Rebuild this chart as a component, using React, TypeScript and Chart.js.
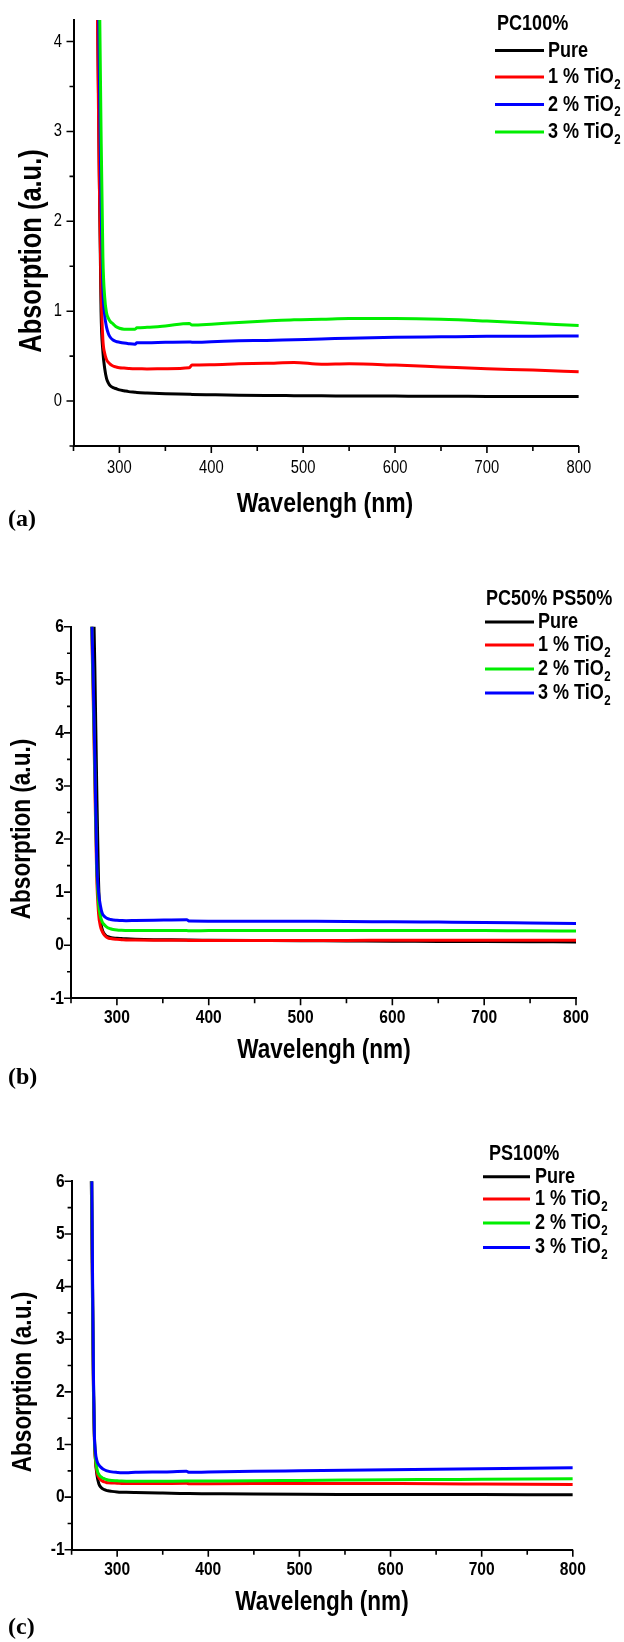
import React, { useEffect, useRef } from 'react';
import { Chart, registerables } from 'chart.js';

Chart.register(...registerables);

const SANS = "'Liberation Sans', Arial, sans-serif";
const SERIF = "'Liberation Serif', 'Times New Roman', serif";
// horizontal squeeze that gives the narrow grotesque look of the labels
const NARROW = 0.82;

// ---------- (a) PC100% ----------
const WL_A = [270, 274, 276, 278, 280, 282, 284, 286, 288, 290, 293, 296, 300, 305, 310, 317, 319, 330, 350, 376, 379, 400, 430, 460, 490, 520, 550, 600, 650, 700, 750, 800];
const PC_PURE = [8, 6, 4.6, 2.6, 1.0, 0.55, 0.36, 0.25, 0.2, 0.17, 0.15, 0.14, 0.125, 0.115, 0.105, 0.098, 0.096, 0.09, 0.082, 0.075, 0.074, 0.07, 0.065, 0.062, 0.06, 0.058, 0.057, 0.055, 0.053, 0.052, 0.051, 0.05];
const PC_TIO2_1 = [8, 6, 4.35, 2.5, 1.25, 0.68, 0.53, 0.46, 0.43, 0.41, 0.39, 0.38, 0.37, 0.367, 0.363, 0.36, 0.36, 0.358, 0.36, 0.37, 0.4, 0.405, 0.415, 0.42, 0.43, 0.41, 0.415, 0.4, 0.38, 0.36, 0.345, 0.325];
const PC_TIO2_2 = [9, 7, 5.5, 3.8, 2.2, 1.25, 0.95, 0.82, 0.75, 0.71, 0.68, 0.665, 0.655, 0.645, 0.638, 0.632, 0.648, 0.65, 0.655, 0.658, 0.655, 0.66, 0.67, 0.675, 0.683, 0.69, 0.7, 0.71, 0.715, 0.72, 0.722, 0.723];
const PC_TIO2_3 = [10, 8, 6.5, 4.8, 3.0, 1.6, 1.15, 0.98, 0.92, 0.885, 0.86, 0.83, 0.81, 0.8, 0.8, 0.8, 0.815, 0.82, 0.835, 0.864, 0.845, 0.855, 0.875, 0.89, 0.905, 0.91, 0.918, 0.918, 0.91, 0.89, 0.865, 0.84];

// ---------- (b) PC50% PS50% ----------
const WL_B = [268, 270, 272, 274, 276, 278, 280, 282, 284, 286, 288, 290, 293, 296, 300, 305, 310, 320, 340, 376, 379, 400, 450, 500, 550, 600, 650, 700, 750, 800];
const MIX_PURE = [12, 10, 8.5, 7, 5.2, 3.0, 1.2, 0.5, 0.3, 0.22, 0.18, 0.16, 0.145, 0.137, 0.13, 0.125, 0.12, 0.113, 0.105, 0.098, 0.097, 0.095, 0.09, 0.085, 0.08, 0.075, 0.072, 0.068, 0.065, 0.062];
const MIX_TIO2_1 = [9, 8, 6.4, 4.8, 3.0, 1.3, 0.6, 0.36, 0.26, 0.2, 0.16, 0.14, 0.125, 0.115, 0.11, 0.105, 0.1, 0.097, 0.094, 0.092, 0.09, 0.09, 0.09, 0.09, 0.091, 0.092, 0.092, 0.092, 0.093, 0.093];
const MIX_TIO2_2 = [9, 8, 6.5, 5.0, 3.3, 1.5, 0.8, 0.55, 0.44, 0.39, 0.355, 0.33, 0.31, 0.295, 0.285, 0.28, 0.278, 0.276, 0.275, 0.275, 0.274, 0.275, 0.276, 0.277, 0.278, 0.278, 0.277, 0.275, 0.272, 0.268];
const MIX_TIO2_3 = [9, 8, 6.6, 5.2, 3.5, 1.6, 1.0, 0.75, 0.6, 0.55, 0.52, 0.5, 0.485, 0.475, 0.47, 0.465, 0.462, 0.465, 0.47, 0.478, 0.455, 0.453, 0.452, 0.45, 0.448, 0.44, 0.435, 0.43, 0.42, 0.41];

// ---------- (c) PS100% ----------
const WL_C = [268, 270, 272, 273, 274, 275, 276, 278, 280, 282, 284, 286, 288, 290, 294, 300, 305, 310, 320, 350, 376, 379, 400, 450, 500, 550, 600, 650, 700, 750, 800];
const PS_PURE = [10, 8, 5.5, 3.6, 2.0, 1.2, 0.75, 0.4, 0.25, 0.19, 0.16, 0.145, 0.13, 0.12, 0.11, 0.1, 0.095, 0.092, 0.088, 0.078, 0.07, 0.068, 0.065, 0.058, 0.054, 0.052, 0.05, 0.05, 0.049, 0.048, 0.048];
const PS_TIO2_1 = [11, 9, 6.1, 3.9, 2.1, 1.1, 0.75, 0.46, 0.37, 0.33, 0.305, 0.29, 0.28, 0.275, 0.27, 0.265, 0.26, 0.258, 0.258, 0.26, 0.262, 0.255, 0.256, 0.258, 0.26, 0.26, 0.258, 0.255, 0.25, 0.245, 0.24];
const PS_TIO2_2 = [11, 9, 6.2, 4.0, 2.2, 1.15, 0.8, 0.52, 0.43, 0.39, 0.365, 0.35, 0.335, 0.325, 0.315, 0.31, 0.305, 0.303, 0.302, 0.303, 0.305, 0.305, 0.307, 0.312, 0.318, 0.324, 0.33, 0.335, 0.34, 0.345, 0.35];
const PS_TIO2_3 = [12, 9.5, 6.5, 4.2, 2.3, 1.2, 0.88, 0.68, 0.61, 0.57, 0.54, 0.52, 0.505, 0.495, 0.48, 0.47, 0.465, 0.465, 0.475, 0.48, 0.49, 0.472, 0.478, 0.49, 0.5, 0.51, 0.52, 0.53, 0.54, 0.55, 0.56];

// ---------- axes & legend text ----------
const X_TICKS = [300, 400, 500, 600, 700, 800];
const X_MINOR = [250, 350, 450, 550, 650, 750];
const Y_TICKS_A = [0, 1, 2, 3, 4];
const Y_MINOR_A = [-0.5, 0.5, 1.5, 2.5, 3.5];
const Y_TICKS_BC = [-1, 0, 1, 2, 3, 4, 5, 6];
const Y_MINOR_BC = [-0.5, 0.5, 1.5, 2.5, 3.5, 4.5, 5.5];
const SERIES_LABELS = ['Pure', '1 % TiO₂', '2 % TiO₂', '3 % TiO₂'];
const COLORS_A = ['#000000', '#ff0000', '#0000ff', '#00ee00'];
const COLORS_BC = ['#000000', '#ff0000', '#00ee00', '#0000ff'];
const X_TITLE = 'Wavelengh (nm)';
const Y_TITLE = 'Absorption (a.u.)';

type PanelSpec = {
  top: number;
  height: number;
  area: { left: number; right: number; top: number; bottom: number };
  yMin: number;
  yMax: number;
  yTicks: number[];
  yMinor: number[];
  tickBold: boolean;
  tickSize: number;
  yPad: number;
  xLabOff: number;
  wl: number[];
  series: number[][];
  colors: string[];
  legendTitle: string;
  legend: { titleX: number; titleY: number; lineX0: number; lineX1: number; textX: number; rows: number[]; size: number };
  xTitle: { x: number; y: number; size: number };
  yTitle: { x: number; y: number; size: number };
};

const PANELS: PanelSpec[] = [
  {
    top: 0, height: 540,
    area: { left: 73.5, right: 578.8, top: 20, bottom: 446 },
    yMin: -0.5, yMax: 4.24, yTicks: Y_TICKS_A, yMinor: Y_MINOR_A,
    tickBold: false, tickSize: 18, yPad: 11.5, xLabOff: 22,
    wl: WL_A, series: [PC_PURE, PC_TIO2_1, PC_TIO2_2, PC_TIO2_3], colors: COLORS_A,
    legendTitle: 'PC100%',
    legend: { titleX: 497, titleY: 24, lineX0: 495, lineX1: 544, textX: 548, rows: [50.5, 77, 104.5, 132], size: 22 },
    xTitle: { x: 325, y: 511.7, size: 28 },
    yTitle: { x: 41.2, y: 251, size: 31 },
  },
  {
    top: 560, height: 520,
    area: { left: 71, right: 576, top: 66.7, bottom: 438.3 },
    yMin: -1, yMax: 6, yTicks: Y_TICKS_BC, yMinor: Y_MINOR_BC,
    tickBold: true, tickSize: 19, yPad: 7, xLabOff: 19,
    wl: WL_B, series: [MIX_PURE, MIX_TIO2_1, MIX_TIO2_2, MIX_TIO2_3], colors: COLORS_BC,
    legendTitle: 'PC50% PS50%',
    legend: { titleX: 486, titleY: 39, lineX0: 485, lineX1: 534, textX: 538, rows: [62, 85, 109, 133], size: 22 },
    xTitle: { x: 324, y: 498, size: 27.5 },
    yTitle: { x: 30, y: 269, size: 27.5 },
  },
  {
    top: 1110, height: 520,
    area: { left: 71.6, right: 572.8, top: 71.3, bottom: 439.8 },
    yMin: -1, yMax: 6, yTicks: Y_TICKS_BC, yMinor: Y_MINOR_BC,
    tickBold: true, tickSize: 19, yPad: 7, xLabOff: 20,
    wl: WL_C, series: [PS_PURE, PS_TIO2_1, PS_TIO2_2, PS_TIO2_3], colors: COLORS_BC,
    legendTitle: 'PS100%',
    legend: { titleX: 489, titleY: 44, lineX0: 483, lineX1: 530, textX: 535, rows: [66.8, 88.9, 113, 137.4], size: 22 },
    xTitle: { x: 322, y: 500, size: 27.5 },
    yTitle: { x: 31, y: 272, size: 27.5 },
  },
];

// text squeezed horizontally around its anchor point
function narrowText(ctx: CanvasRenderingContext2D, text: string, x: number, y: number, align: CanvasTextAlign) {
  ctx.save();
  ctx.translate(x, y);
  ctx.scale(NARROW, 1);
  ctx.textAlign = align;
  ctx.fillText(text, 0, 0);
  ctx.restore();
}

function decorPlugin(spec: PanelSpec) {
  return {
    id: 'panelDecor',
    afterDraw(chart: any) {
      const { ctx, chartArea } = chart;
      const xs = chart.scales.x;
      const ys = chart.scales.y;
      ctx.save();
      // outward tick marks, major and minor
      ctx.strokeStyle = '#000';
      ctx.lineWidth = 1.6;
      ctx.beginPath();
      X_TICKS.forEach((v) => {
        const p = xs.getPixelForValue(v);
        ctx.moveTo(p, chartArea.bottom);
        ctx.lineTo(p, chartArea.bottom + 7);
      });
      X_MINOR.forEach((v) => {
        const p = xs.getPixelForValue(v);
        ctx.moveTo(p, chartArea.bottom);
        ctx.lineTo(p, chartArea.bottom + 5);
      });
      spec.yTicks.forEach((v) => {
        const p = ys.getPixelForValue(v);
        ctx.moveTo(chartArea.left, p);
        ctx.lineTo(chartArea.left - 7, p);
      });
      spec.yMinor.forEach((v) => {
        const p = ys.getPixelForValue(v);
        ctx.moveTo(chartArea.left, p);
        ctx.lineTo(chartArea.left - 4, p);
      });
      ctx.stroke();

      // tick labels
      ctx.fillStyle = '#000';
      ctx.textBaseline = 'middle';
      ctx.font = `${spec.tickBold ? 'bold ' : ''}${spec.tickSize}px ${SANS}`;
      X_TICKS.forEach((v) => {
        narrowText(ctx, String(v), xs.getPixelForValue(v), chartArea.bottom + spec.xLabOff, 'center');
      });
      spec.yTicks.forEach((v) => {
        narrowText(ctx, String(v), chartArea.left - spec.yPad, ys.getPixelForValue(v), 'right');
      });

      // axis titles
      ctx.textBaseline = 'alphabetic';
      ctx.font = `bold ${spec.xTitle.size}px ${SANS}`;
      narrowText(ctx, X_TITLE, spec.xTitle.x, spec.xTitle.y, 'center');
      ctx.save();
      ctx.translate(spec.yTitle.x, spec.yTitle.y);
      ctx.rotate(-Math.PI / 2);
      ctx.font = `bold ${spec.yTitle.size}px ${SANS}`;
      narrowText(ctx, Y_TITLE, 0, 0, 'center');
      ctx.restore();

      // legend
      const lg = spec.legend;
      ctx.textBaseline = 'middle';
      ctx.font = `bold ${lg.size}px ${SANS}`;
      narrowText(ctx, spec.legendTitle, lg.titleX, lg.titleY, 'left');
      chart.data.datasets.forEach((ds: any, i: number) => {
        const y = lg.rows[i];
        ctx.strokeStyle = ds.borderColor;
        ctx.lineWidth = 3;
        ctx.beginPath();
        ctx.moveTo(lg.lineX0, y);
        ctx.lineTo(lg.lineX1, y);
        ctx.stroke();
        const parts = String(ds.label).split('₂');
        ctx.font = `bold ${lg.size}px ${SANS}`;
        narrowText(ctx, parts[0], lg.textX, y, 'left');
        if (parts.length > 1) {
          const w = ctx.measureText(parts[0]).width * NARROW;
          ctx.font = `bold ${Math.round(lg.size * 0.62)}px ${SANS}`;
          narrowText(ctx, '2', lg.textX + w + 0.5, y + 8, 'left');
        }
      });
      ctx.restore();
    },
  };
}

function Panel({ spec }: { spec: PanelSpec }) {
  const ref = useRef<HTMLCanvasElement | null>(null);
  useEffect(() => {
    if (!ref.current) return;
    const n = spec.series.length;
    const chart = new Chart(ref.current, {
      type: 'line',
      data: {
        datasets: spec.series.map((vals, i) => ({
          label: SERIES_LABELS[i],
          data: spec.wl.map((x, j) => ({ x, y: vals[j] })),
          borderColor: spec.colors[i],
          backgroundColor: spec.colors[i],
          borderWidth: 3,
          pointRadius: 0,
          cubicInterpolationMode: 'monotone',
          borderJoinStyle: 'round',
          order: n - i,
        })) as any,
      },
      options: {
        animation: false,
        responsive: false,
        devicePixelRatio: 1,
        events: [],
        layout: {
          padding: { left: 0, top: spec.area.top, right: 624 - spec.area.right, bottom: 0 },
        },
        plugins: { legend: { display: false }, tooltip: { enabled: false }, title: { display: false } },
        scales: {
          x: {
            type: 'linear',
            min: 250,
            max: 800,
            grid: { display: false },
            border: { display: true, color: '#000', width: 2 },
            ticks: { display: false },
            afterBuildTicks: (s: any) => { s.ticks = X_TICKS.map((value) => ({ value })); },
            afterFit: (s: any) => {
              s.height = spec.height - spec.area.bottom;
              s.paddingLeft = 0; s.paddingRight = 0; s.paddingTop = 0; s.paddingBottom = 0;
            },
          },
          y: {
            type: 'linear',
            min: spec.yMin,
            max: spec.yMax,
            grid: { display: false },
            border: { display: true, color: '#000', width: 2 },
            ticks: { display: false },
            afterBuildTicks: (s: any) => { s.ticks = spec.yTicks.map((value) => ({ value })); },
            afterFit: (s: any) => {
              s.width = spec.area.left;
              s.paddingLeft = 0; s.paddingRight = 0; s.paddingTop = 0; s.paddingBottom = 0;
            },
          },
        },
      } as any,
      plugins: [decorPlugin(spec)],
    });
    return () => chart.destroy();
  }, [spec]);
  return (
    <canvas
      ref={ref}
      width={624}
      height={spec.height}
      style={{ position: 'absolute', left: 0, top: spec.top, width: 624, height: spec.height }}
    />
  );
}

const PANEL_TAGS = ['(a)', '(b)', '(c)'];
const TAG_TOPS = [506, 1064, 1614];

export default function App() {
  return (
    <div style={{ position: 'absolute', left: 0, top: 0, width: 624, height: 1642, background: '#fff', overflow: 'hidden' }}>
      {PANELS.map((p, i) => (
        <Panel key={i} spec={p} />
      ))}
      {PANEL_TAGS.map((t, i) => (
        <div
          key={t}
          style={{
            position: 'absolute', left: 8, top: TAG_TOPS[i],
            font: `bold 24px ${SERIF}`, lineHeight: '24px', color: '#000',
          }}
        >
          {t}
        </div>
      ))}
    </div>
  );
}
